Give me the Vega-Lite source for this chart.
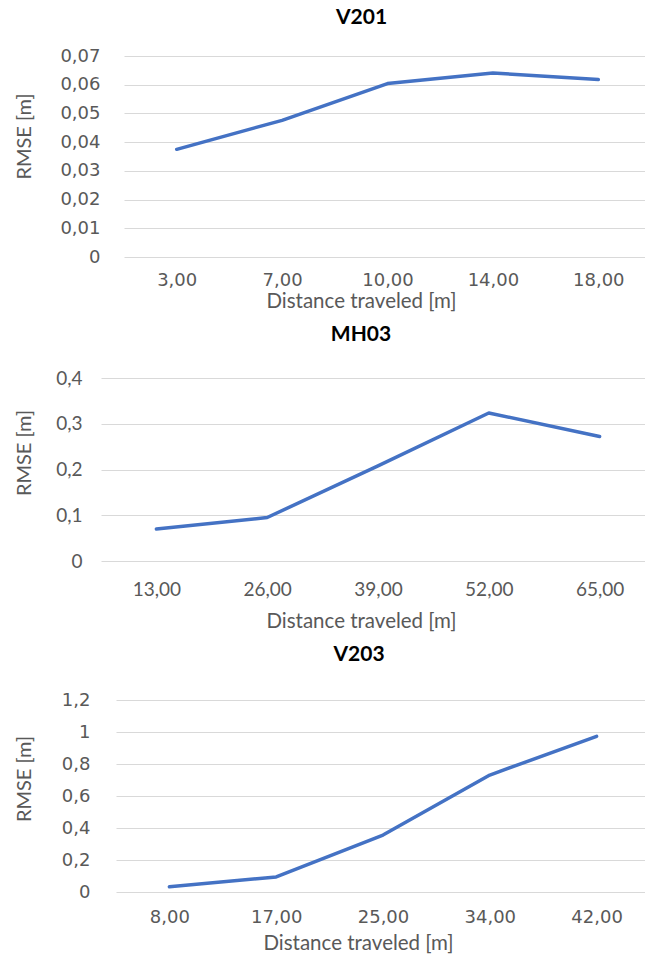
{
  "$schema": "https://vega.github.io/schema/vega-lite/v6.json",
  "padding": {"left": 13, "top": 7, "right": 0, "bottom": 0},
  "spacing": 11,
  "config": {
    "view": {"stroke": null},
    "axis": {
      "domain": false,
      "ticks": false,
      "gridColor": "#d9d9d9",
      "gridWidth": 1,
      "labelColor": "#595959",
      "titleColor": "#595959",
      "titleFont": "Lato",
      "titleFontWeight": "normal"
    },
    "title": {"font": "Lato", "fontWeight": "bold", "fontSize": 21, "color": "#000000", "frame": "group", "anchor": "middle"}
  },
  "vconcat": [
    {"spacing": 0, "hconcat": [
    {"width": 1, "height": 1, "data": {"values": []}, "mark": "point"},
    {
      "title": {"text": "V201", "dx": -26, "offset": 19},
      "width": 527,
      "height": 201,
      "data": {"values": [
        {"d": "3,00", "v": 0.0375},
        {"d": "7,00", "v": 0.0476},
        {"d": "10,00", "v": 0.0604},
        {"d": "14,00", "v": 0.0641},
        {"d": "18,00", "v": 0.0618}
      ]},
      "mark": {"type": "line", "color": "#4472c4", "strokeWidth": 3.5, "strokeCap": "round", "strokeJoin": "round"},
      "encoding": {
        "x": {"field": "d", "type": "ordinal", "sort": null, "scale": {"type": "point", "padding": 0.5},
          "axis": {"labelAngle": 0, "labelPadding": 14, "labelFont": "DejaVu Sans", "labelFontSize": 18, "grid": false,
            "title": "Distance traveled [m]", "titleX": 237, "titleY": 44, "titleAlign": "center", "titleBaseline": "middle", "titleFontSize": 20.5}},
        "y": {"field": "v", "type": "quantitative", "scale": {"domain": [0, 0.07], "nice": false},
          "axis": {"values": [0, 0.01, 0.02, 0.03, 0.04, 0.05, 0.06, 0.07], "labelExpr": "replace(format(datum.value, '~g'), '.', ',')",
            "labelPadding": 24, "labelFont": "DejaVu Sans", "labelFontSize": 18,
            "title": "RMSE [m]", "titleX": -99.5, "titleY": 80, "titleAngle": -90, "titleAlign": "center", "titleBaseline": "middle", "titleFontSize": 20}}
      }
    }]},
    {"spacing": 0, "hconcat": [
    {"width": 1, "height": 1, "data": {"values": []}, "mark": "point"},
    {
      "title": {"text": "MH03", "dx": -17, "offset": 24.5},
      "width": 554,
      "height": 183,
      "data": {"values": [
        {"d": "13,00", "v": 0.070},
        {"d": "26,00", "v": 0.095},
        {"d": "39,00", "v": 0.208},
        {"d": "52,00", "v": 0.3235},
        {"d": "65,00", "v": 0.272}
      ]},
      "mark": {"type": "line", "color": "#4472c4", "strokeWidth": 3.5, "strokeCap": "round", "strokeJoin": "round"},
      "encoding": {
        "x": {"field": "d", "type": "ordinal", "sort": null, "scale": {"type": "point", "padding": 0.5},
          "axis": {"labelAngle": 0, "labelPadding": 19, "labelFont": "Lato", "labelFontSize": 19, "grid": false,
            "title": "Distance traveled [m]", "titleX": 260, "titleY": 60, "titleAlign": "center", "titleBaseline": "middle", "titleFontSize": 20.5}},
        "y": {"field": "v", "type": "quantitative", "scale": {"domain": [0, 0.4], "nice": false},
          "axis": {"values": [0, 0.1, 0.2, 0.3, 0.4], "labelExpr": "replace(format(datum.value, '~g'), '.', ',')",
            "labelPadding": 19, "labelFont": "Lato", "labelFontSize": 19,
            "title": "RMSE [m]", "titleX": -76.5, "titleY": 74.5, "titleAngle": -90, "titleAlign": "center", "titleBaseline": "middle", "titleFontSize": 20}}
      }
    }]},
    {"spacing": 0, "hconcat": [
    {"width": 1, "height": 1, "data": {"values": []}, "mark": "point"},
    {
      "title": {"text": "V203", "dx": -24, "offset": 26.5},
      "width": 534,
      "height": 192,
      "data": {"values": [
        {"d": "8,00", "v": 0.033},
        {"d": "17,00", "v": 0.094},
        {"d": "25,00", "v": 0.356},
        {"d": "34,00", "v": 0.731},
        {"d": "42,00", "v": 0.973}
      ]},
      "mark": {"type": "line", "color": "#4472c4", "strokeWidth": 3.5, "strokeCap": "round", "strokeJoin": "round"},
      "encoding": {
        "x": {"field": "d", "type": "ordinal", "sort": null, "scale": {"type": "point", "padding": 0.5},
          "axis": {"labelAngle": 0, "labelPadding": 16, "labelFont": "DejaVu Sans", "labelFontSize": 18, "grid": false,
            "title": "Distance traveled [m]", "titleX": 242, "titleY": 51, "titleAlign": "center", "titleBaseline": "middle", "titleFontSize": 20.5}},
        "y": {"field": "v", "type": "quantitative", "scale": {"domain": [0, 1.2], "nice": false},
          "axis": {"values": [0, 0.2, 0.4, 0.6, 0.8, 1, 1.2], "labelExpr": "replace(format(datum.value, '~g'), '.', ',')",
            "labelPadding": 26, "labelFont": "DejaVu Sans", "labelFontSize": 18,
            "title": "RMSE [m]", "titleX": -91.5, "titleY": 78.5, "titleAngle": -90, "titleAlign": "center", "titleBaseline": "middle", "titleFontSize": 20}}
      }
    }]}
  ]
}
